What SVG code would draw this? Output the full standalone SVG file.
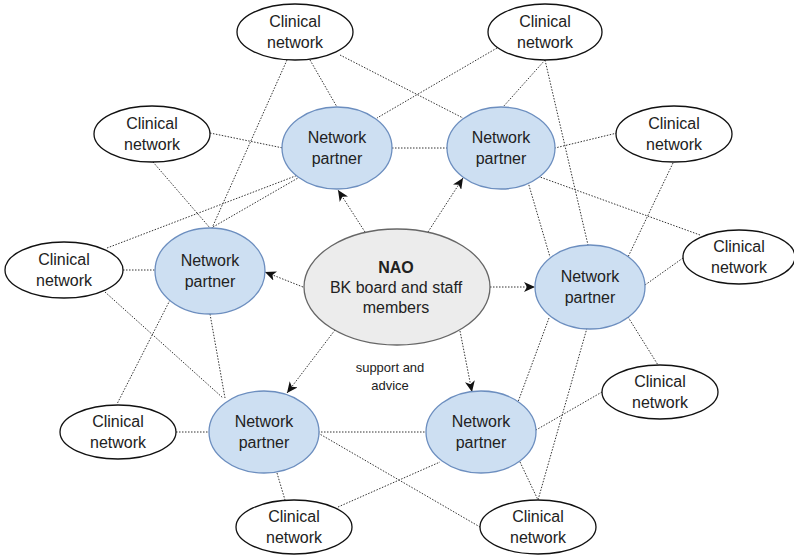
<svg xmlns="http://www.w3.org/2000/svg" width="794" height="557" viewBox="0 0 794 557">
<defs>
<style>
.c{stroke:#333;stroke-width:1;stroke-dasharray:1.5 1.5;fill:none}
.cn{fill:#fff;stroke:#111;stroke-width:1.3}
.np{fill:#cddff2;stroke:#6c8ebf;stroke-width:1.3}
.nao{fill:#ececec;stroke:#666;stroke-width:1.3}
text{font-family:"Liberation Sans",Arial,sans-serif;fill:#222;text-anchor:middle}
.t{font-size:16px}
.s{font-size:13px}
</style>
<marker id="ah" markerWidth="12" markerHeight="10" refX="11" refY="5" orient="auto" markerUnits="userSpaceOnUse">
<path d="M0,0 L11,5 L0,10 L3,5 Z" fill="#111"/>
</marker>
</defs>
<rect width="794" height="557" fill="#fff"/>
<g id="connectors">
<line class="c" x1="310" y1="60" x2="337" y2="107"/>
<line class="c" x1="287" y1="60" x2="212" y2="228"/>
<line class="c" x1="340" y1="55" x2="463" y2="118"/>
<line class="c" x1="497" y1="48" x2="377" y2="118"/>
<line class="c" x1="545" y1="60" x2="503" y2="107"/>
<line class="c" x1="545" y1="60" x2="588" y2="245"/>
<line class="c" x1="210" y1="133" x2="283" y2="148"/>
<line class="c" x1="153" y1="162" x2="210" y2="228"/>
<line class="c" x1="213" y1="227" x2="298" y2="178"/>
<line class="c" x1="107" y1="248" x2="298" y2="175"/>
<line class="c" x1="123" y1="270" x2="155" y2="270"/>
<line class="c" x1="105" y1="292" x2="223" y2="398"/>
<line class="c" x1="170" y1="300" x2="117" y2="404"/>
<line class="c" x1="210" y1="314" x2="225" y2="398"/>
<line class="c" x1="392" y1="148" x2="447" y2="148"/>
<line class="c" x1="617" y1="133" x2="555" y2="148"/>
<line class="c" x1="673" y1="163" x2="628" y2="257"/>
<line class="c" x1="683" y1="258" x2="645" y2="285"/>
<line class="c" x1="700" y1="235" x2="540" y2="177"/>
<line class="c" x1="528" y1="182" x2="550" y2="257"/>
<line class="c" x1="549" y1="318" x2="518" y2="402"/>
<line class="c" x1="587" y1="328" x2="538" y2="500"/>
<line class="c" x1="628" y1="317" x2="658" y2="365"/>
<line class="c" x1="602" y1="392" x2="536" y2="430"/>
<line class="c" x1="520" y1="462" x2="538" y2="500"/>
<line class="c" x1="318" y1="433" x2="480" y2="527"/>
<line class="c" x1="338" y1="507" x2="440" y2="462"/>
<line class="c" x1="318" y1="432" x2="426" y2="432"/>
<line class="c" x1="277" y1="473" x2="285" y2="500"/>
<line class="c" x1="176" y1="432" x2="209" y2="432"/>
<line class="c" x1="365" y1="232" x2="338" y2="190" marker-end="url(#ah)"/>
<line class="c" x1="428" y1="232" x2="463" y2="178" marker-end="url(#ah)"/>
<line class="c" x1="303" y1="287" x2="265" y2="272" marker-end="url(#ah)"/>
<line class="c" x1="490" y1="287" x2="535" y2="287" marker-end="url(#ah)"/>
<line class="c" x1="335" y1="330" x2="287" y2="393" marker-end="url(#ah)"/>
<line class="c" x1="460" y1="331" x2="472" y2="392" marker-end="url(#ah)"/>
</g>
<g id="nao"><ellipse class="nao" cx="397" cy="287" rx="93" ry="58"/>
<text class="t" x="396" y="273" font-weight="bold">NAO</text>
<text class="t" x="396" y="293">BK board and staff</text>
<text class="t" x="396" y="313">members</text></g>
<g id="label-support"><text class="s" x="390" y="372">support and</text><text class="s" x="390" y="390">advice</text></g>
<g id="np1"><ellipse class="np" cx="337" cy="148" rx="55" ry="41"/><text class="t" x="337" y="143">Network</text><text class="t" x="337" y="164">partner</text></g>
<g id="np2"><ellipse class="np" cx="501" cy="148" rx="54" ry="41"/><text class="t" x="501" y="143">Network</text><text class="t" x="501" y="164">partner</text></g>
<g id="np3"><ellipse class="np" cx="210" cy="271" rx="55" ry="43"/><text class="t" x="210" y="266">Network</text><text class="t" x="210" y="287">partner</text></g>
<g id="np4"><ellipse class="np" cx="590" cy="287" rx="55" ry="42"/><text class="t" x="590" y="282">Network</text><text class="t" x="590" y="303">partner</text></g>
<g id="np5"><ellipse class="np" cx="264" cy="432" rx="55" ry="41"/><text class="t" x="264" y="427">Network</text><text class="t" x="264" y="448">partner</text></g>
<g id="np6"><ellipse class="np" cx="481" cy="432" rx="55" ry="41"/><text class="t" x="481" y="427">Network</text><text class="t" x="481" y="448">partner</text></g>
<g id="cn1"><ellipse class="cn" cx="295" cy="32" rx="58" ry="28"/><text class="t" x="295" y="27">Clinical</text><text class="t" x="295" y="48">network</text></g>
<g id="cn2"><ellipse class="cn" cx="545" cy="32" rx="57" ry="28"/><text class="t" x="545" y="27">Clinical</text><text class="t" x="545" y="48">network</text></g>
<g id="cn3"><ellipse class="cn" cx="152" cy="134" rx="58" ry="28"/><text class="t" x="152" y="129">Clinical</text><text class="t" x="152" y="150">network</text></g>
<g id="cn4"><ellipse class="cn" cx="64" cy="270" rx="59" ry="28"/><text class="t" x="64" y="265">Clinical</text><text class="t" x="64" y="286">network</text></g>
<g id="cn5"><ellipse class="cn" cx="674" cy="134" rx="58" ry="28"/><text class="t" x="674" y="129">Clinical</text><text class="t" x="674" y="150">network</text></g>
<g id="cn6"><ellipse class="cn" cx="739" cy="257" rx="56" ry="27"/><text class="t" x="739" y="252">Clinical</text><text class="t" x="739" y="273">network</text></g>
<g id="cn7"><ellipse class="cn" cx="660" cy="392" rx="58" ry="27"/><text class="t" x="660" y="387">Clinical</text><text class="t" x="660" y="408">network</text></g>
<g id="cn8"><ellipse class="cn" cx="538" cy="527" rx="58" ry="27"/><text class="t" x="538" y="522">Clinical</text><text class="t" x="538" y="543">network</text></g>
<g id="cn9"><ellipse class="cn" cx="294" cy="527" rx="58" ry="27"/><text class="t" x="294" y="522">Clinical</text><text class="t" x="294" y="543">network</text></g>
<g id="cn10"><ellipse class="cn" cx="118" cy="432" rx="58" ry="27"/><text class="t" x="118" y="427">Clinical</text><text class="t" x="118" y="448">network</text></g>
</svg>
